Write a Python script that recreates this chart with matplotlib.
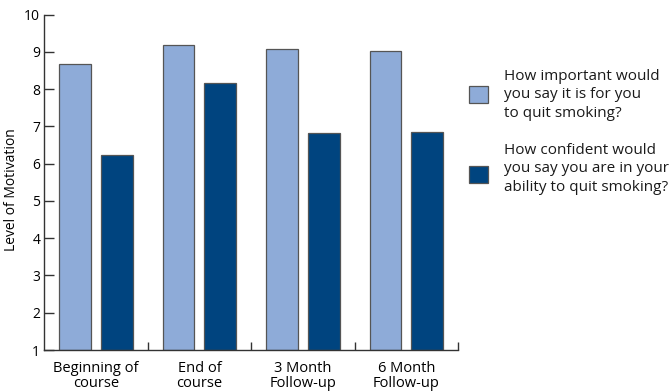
import matplotlib
matplotlib.use("Agg")
import matplotlib.pyplot as plt
from matplotlib.patches import Rectangle
import numpy as np

plt.rcParams['font.family'] = ['Open Sans', 'DejaVu Sans']

categories = ["Beginning of\ncourse", "End of\ncourse", "3 Month\nFollow-up", "6 Month\nFollow-up"]
important = [8.68, 9.18, 9.07, 9.03]
confident = [6.23, 8.16, 6.82, 6.85]
legend_labels = ["How important would\nyou say it is for you\nto quit smoking?",
                 "How confident would\nyou say you are in your\nability to quit smoking?"]

light = "#8eabd8"
dark = "#00447f"
edge = "#555555"
W, H = 671, 392

fig = plt.figure(figsize=(W / 100, H / 100), dpi=100)
ax = fig.add_axes([44.3 / W, 42 / H, 414 / W, 335.5 / H])

x = np.arange(len(categories))
w = 0.305
base = 1
ax.bar(x + 0.297, np.array(important) - base, w, bottom=base, color=light,
       edgecolor=edge, linewidth=0.9)
ax.bar(x + 0.70, np.array(confident) - base, w, bottom=base, color=dark,
       edgecolor=edge, linewidth=0.9)

ax.set_xlim(0, 4)
ax.set_ylim(1, 10)
ax.set_yticks(range(1, 11))
ax.tick_params(axis='y', direction='in', length=7, width=1, color='#333333',
               labelsize=10, pad=3)
ax.set_xticks([1, 2, 3, 4])
ax.set_xticklabels([])
ax.tick_params(axis='x', direction='in', length=5.5, width=1, color='#333333')
ax.set_xticks(x + 0.5, minor=True)
ax.set_xticklabels(categories, minor=True, fontsize=10.5, linespacing=1.0)
ax.tick_params(axis='x', which='minor', length=0, pad=8)
for s in ['top', 'right']:
    ax.spines[s].set_visible(False)
for s in ['left', 'bottom']:
    ax.spines[s].set_color('#333333')
    ax.spines[s].set_linewidth(1)
ax.set_ylabel("Level of Motivation", fontsize=10)
ax.yaxis.set_label_coords((19 - 44.3) / 414, 0.478)

# legend: swatches and wrapped question text
swatch_colors = [light, dark]
swatch_top = [86, 166]
text_top = [69, 143]
for col, st, tt, lab in zip(swatch_colors, swatch_top, text_top, legend_labels):
    fig.add_artist(Rectangle((469.3 / W, 1 - (st + 16.5) / H), 18.4 / W, 16.5 / H,
                             transform=fig.transFigure, facecolor=col,
                             edgecolor=edge, linewidth=0.9))
    fig.text(504 / W, 1 - tt / H, lab, fontsize=11, va='top', ha='left',
             linespacing=1.3, color='#1a1a1a')

fig.savefig("out.png", dpi=100)
